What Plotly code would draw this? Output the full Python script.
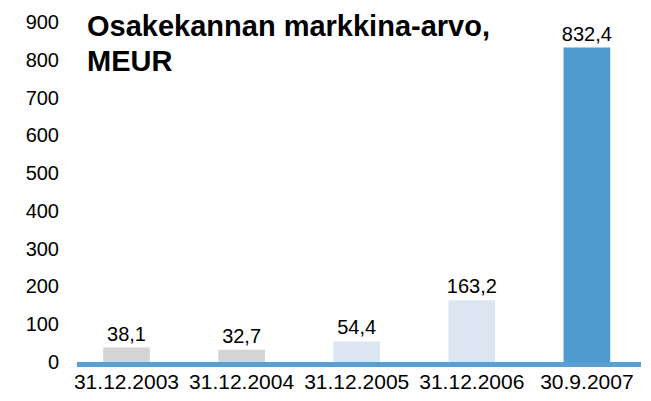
import plotly.graph_objects as go

categories = ["31.12.2003", "31.12.2004", "31.12.2005", "31.12.2006", "30.9.2007"]
values = [38.1, 32.7, 54.4, 163.2, 832.4]
bar_colors = ["#d4d4d4", "#d4d4d4", "#dce6f2", "#dce6f2", "#4f9bd0"]
y_ticks = [0, 100, 200, 300, 400, 500, 600, 700, 800, 900]
title_lines = ["Osakekannan markkina-arvo,", "MEUR"]

labels = [f"{v:.1f}".replace(".", ",") for v in values]

FONT = "Liberation Sans, Arial, sans-serif"

fig = go.Figure(
    go.Bar(
        x=categories,
        y=values,
        marker=dict(color=bar_colors, line=dict(width=0)),
        width=0.405,
        text=labels,
        textposition="outside",
        constraintext="none",
        textfont=dict(family=FONT, size=20, color="#000000"),
        cliponaxis=False,
    )
)

# the page body adds an 8px margin, so the figure is 8px smaller than the window
fig.update_layout(
    width=643,
    height=393,
    margin=dict(l=69, r=10, t=14, b=39, autoexpand=False),
    paper_bgcolor="white",
    plot_bgcolor="white",
    showlegend=False,
    font=dict(family=FONT, size=20, color="#000000"),
    xaxis=dict(
        type="category",
        range=[-0.43, 4.47],
        showline=True,
        linecolor="#5a9fd4",
        linewidth=4.5,
        showgrid=False,
        ticks="",
        ticklabelstandoff=-3,
        automargin=False,
        tickfont=dict(family=FONT, size=21, color="#000000"),
        fixedrange=True,
    ),
    yaxis=dict(
        range=[0, 900],
        tickvals=y_ticks,
        showgrid=False,
        zeroline=False,
        showline=False,
        ticks="outside",
        ticklen=13,
        tickcolor="rgba(0,0,0,0)",
        automargin=False,
        tickfont=dict(family=FONT, size=20, color="#000000"),
        fixedrange=True,
    ),
    annotations=[
        dict(
            text="<b>" + line + "</b>",
            xref="paper",
            yref="paper",
            x=0.014,
            y=yy,
            xanchor="left",
            yanchor="middle",
            align="left",
            showarrow=False,
            font=dict(family=FONT, size=29, color="#000000"),
        )
        for line, yy in zip(title_lines, [0.988, 0.886])
    ],
)

fig.write_html("out.html")
